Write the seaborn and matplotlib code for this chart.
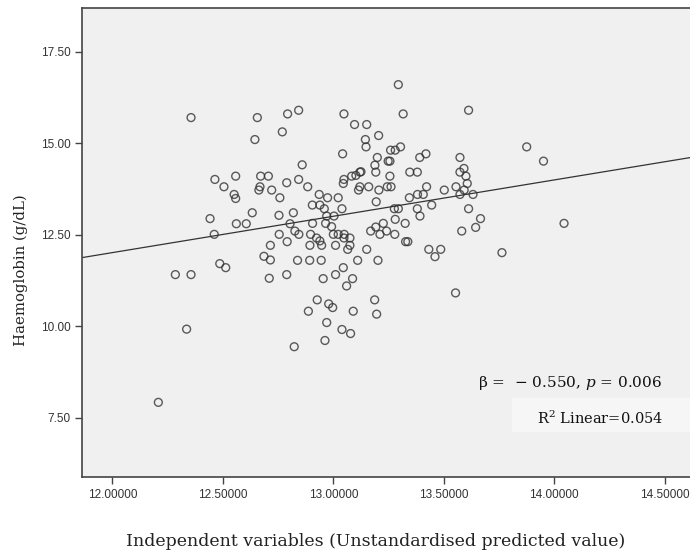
import matplotlib
matplotlib.use("Agg")
import matplotlib.pyplot as plt
from matplotlib.ticker import FormatStrFormatter
from matplotlib.patches import Rectangle
import pandas as pd
import numpy as np
import seaborn as sns

# valores
x = [12.208, 12.356, 12.656, 12.793, 12.769, 12.645, 12.464, 12.505, 12.558, 12.551,
     12.558, 12.671, 12.706, 12.668, 12.663, 12.721, 12.758, 12.789, 12.442, 12.633,
     12.754, 12.561, 12.606, 12.804, 12.461, 12.755, 12.791, 12.715, 12.686, 12.715,
     12.486, 12.513, 12.285, 12.356, 12.710, 12.789, 12.336, 13.294, 12.843, 13.048,
     13.316, 13.096, 13.151, 13.145, 13.205, 13.148, 13.042, 13.259, 13.280, 13.304,
     13.199, 13.248, 13.256, 13.188, 13.192, 12.859, 13.391, 13.346, 13.380, 13.256,
     12.843, 12.884, 13.048, 13.045, 13.083, 13.102, 13.120, 13.125, 13.160, 13.120,
     13.114, 13.206, 13.244, 13.261, 13.344, 13.381, 12.936, 12.974, 13.022, 13.194,
     12.905, 12.939, 12.959, 13.039, 13.276, 13.294, 12.819, 12.970, 13.003, 13.380,
     12.906, 12.965, 12.992, 12.826, 12.844, 12.897, 12.924, 12.939, 13.000, 13.022,
     13.049, 13.048, 13.075, 13.075, 13.065, 13.010, 12.947, 12.894, 13.151, 13.169,
     13.192, 13.211, 13.226, 13.241, 13.280, 13.278, 13.325, 13.327, 13.337, 12.838,
     12.893, 12.945, 13.110, 13.202, 13.045, 12.954, 13.010, 13.087, 13.060, 12.927,
     12.887, 12.979, 12.997, 13.090, 13.187, 13.196, 12.970, 13.039, 13.078, 12.962,
     12.823, 13.612, 13.875, 13.951, 13.419, 13.573, 13.591, 13.573, 13.600, 13.606,
     13.555, 13.592, 13.573, 13.632, 13.502, 13.422, 13.407, 13.445, 13.392, 13.612,
     13.666, 13.644, 13.581, 14.044, 13.432, 13.486, 13.460, 13.763, 13.553]
y = [7.92, 15.70, 15.70, 15.80, 15.31, 15.10, 14.01, 13.81, 14.10, 13.60,
     13.49, 14.10, 14.10, 13.81, 13.72, 13.72, 13.51, 13.92, 12.94, 13.10,
     13.03, 12.80, 12.80, 12.80, 12.51, 12.51, 12.31, 12.21, 11.91, 11.81,
     11.71, 11.60, 11.41, 11.41, 11.31, 11.41, 9.92, 16.60, 15.90, 15.80,
     15.80, 15.51, 15.51, 15.10, 15.21, 14.90, 14.71, 14.81, 14.81, 14.90,
     14.61, 14.51, 14.51, 14.40, 14.21, 14.41, 14.61, 14.21, 14.21, 14.10,
     14.01, 13.81, 14.01, 13.90, 14.10, 14.12, 14.21, 14.22, 13.81, 13.81,
     13.72, 13.72, 13.81, 13.81, 13.51, 13.60, 13.60, 13.51, 13.51, 13.40,
     13.31, 13.31, 13.21, 13.21, 13.21, 13.21, 13.10, 13.01, 13.01, 13.21,
     12.81, 12.81, 12.72, 12.60, 12.51, 12.51, 12.41, 12.33, 12.51, 12.51,
     12.51, 12.41, 12.41, 12.21, 12.10, 12.21, 12.21, 12.21, 12.10, 12.60,
     12.71, 12.51, 12.81, 12.60, 12.92, 12.51, 12.81, 12.31, 12.31, 11.80,
     11.80, 11.80, 11.80, 11.80, 11.60, 11.30, 11.41, 11.30, 11.10, 10.72,
     10.41, 10.61, 10.51, 10.41, 10.72, 10.33, 10.10, 9.91, 9.80, 9.61,
     9.44, 15.90, 14.90, 14.51, 14.71, 14.61, 14.31, 14.21, 14.10, 13.90,
     13.81, 13.72, 13.60, 13.60, 13.72, 13.81, 13.60, 13.31, 13.01, 13.21,
     12.94, 12.70, 12.60, 12.81, 12.10, 12.10, 11.90, 12.01, 10.91]

x_ticks = [12.0, 12.5, 13.0, 13.5, 14.0, 14.5]
y_ticks = [7.5, 10.0, 12.5, 15.0, 17.5]

df = pd.DataFrame({"pred": x, "hb": y})

sns.set_theme(style="white")
plt.rcParams['font.family'] = ['DejaVu Serif']
plt.rcParams['mathtext.fontset'] = 'dejavuserif'

fig = plt.figure(figsize=(6.9, 5.53), dpi=100)
ax = fig.add_axes([0.1193, 0.1374, 0.8807, 0.8476])
ax.set_facecolor("#f0f0f0")
xlim = (11.864, 14.614)
ylim = (5.88, 18.686)
ax.set_xlim(xlim)
ax.set_ylim(ylim)

sns.regplot(data=df, x="pred", y="hb", ax=ax, ci=None, truncate=False,
            scatter_kws=dict(s=32, facecolors="none", edgecolors="#333333", linewidths=1.0),
            line_kws=dict(color="#333333", lw=0.9))
ax.set_xlim(xlim)
ax.set_ylim(ylim)

ax.set_xticks(x_ticks)
ax.set_yticks(y_ticks)
ax.xaxis.set_major_formatter(FormatStrFormatter("%.5f"))
ax.yaxis.set_major_formatter(FormatStrFormatter("%.2f"))
ax.tick_params(axis="both", direction="out", length=5, width=1, color="#444444",
               labelsize=8.5, labelcolor="#333333", bottom=True, left=True)
for lab in ax.get_xticklabels() + ax.get_yticklabels():
    lab.set_fontfamily("Liberation Sans")

for s in ["left", "top", "bottom"]:
    ax.spines[s].set_color("#444444")
    ax.spines[s].set_linewidth(1.2)
ax.spines["right"].set_visible(False)

ax.set_xlabel("Independent variables (Unstandardised predicted value)", fontsize=12.5, color="#222222")
ax.set_ylabel("Haemoglobin (g/dL)", fontsize=10.7, color="#222222")
ax.xaxis.label.set_va("center")
ax.yaxis.label.set_va("center")
ax.xaxis.set_label_coords(0.482, -0.1366)
ax.yaxis.set_label_coords(-0.102, 0.4417)

# anotaciones
ax.add_patch(Rectangle((0.707, 0.096), 0.3, 0.0726, transform=ax.transAxes,
                       facecolor="#f6f6f6", edgecolor="none", zorder=1))
ax.text(0.651, 0.2006, "β =  − 0.550, $p$ = 0.006", transform=ax.transAxes,
        fontsize=11, color="#111111", va="center", ha="left")
ax.text(0.748, 0.126, "R$^2$ Linear=0.054", transform=ax.transAxes,
        fontsize=10.5, color="#111111", va="center", ha="left", zorder=3)

plt.savefig("out.png", dpi=100)
